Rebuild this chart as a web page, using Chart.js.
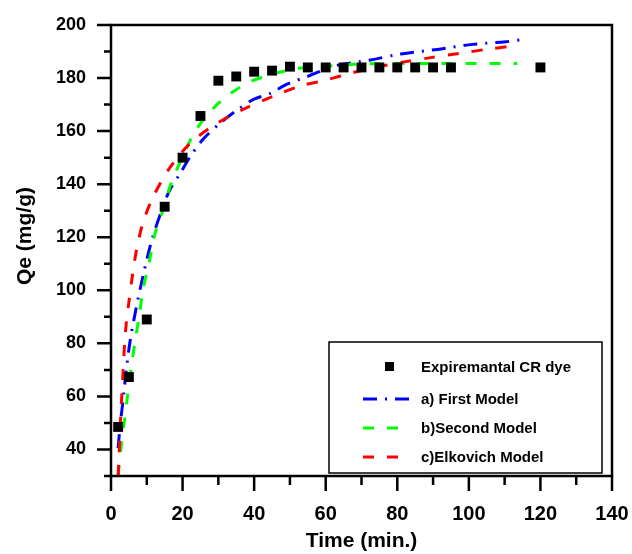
<!DOCTYPE html>
<html><head><meta charset="utf-8">
<script src="https://cdn.jsdelivr.net/npm/chart.js@4"></script>
<style>html,body{margin:0;padding:0;background:#fff}</style>
</head><body>
<canvas id="c" width="632" height="554"></canvas>
<script>
// Experimental data (Time in min, Qe in mg/g)
const expTime = [2, 5, 10, 15, 20, 25, 30, 35, 40, 45, 50, 55, 60, 65, 70, 75, 80, 85, 90, 95, 120];
const expQe   = [48.5, 67.3, 89, 131.5, 150, 165.7, 179, 180.6, 182.4, 182.8, 184.3, 184, 184, 184, 184, 184, 184, 184, 184, 184, 184];

// a) First Model (read from curve)
const firstTime = [2, 2.5, 3.6, 4.1, 5.3, 7, 9.1, 11.4, 14, 16.3, 19.3, 22.1, 25.9, 30.5, 35.2, 39.9, 44.5, 49.2, 55.3, 62.3, 72.5, 81, 91.2, 101, 110.4, 115.3];
const firstQe   = [40.5, 48.4, 61.3, 68, 80.5, 93.1, 106.3, 118.9, 129.5, 137.5, 144, 150.3, 157.2, 163, 167.9, 172, 174.2, 177.7, 180.8, 184.5, 186.8, 189.1, 190.8, 192.7, 193.7, 194.6];

// b) Second Model
const secondTime = [2, 2.8, 3.7, 4.7, 5.6, 6.7, 7.9, 9, 10.7, 12.3, 14.2, 16.8, 19.8, 24, 30.5, 38, 45, 52.7, 60, 67.9, 75, 85, 95, 105, 113.5];
const secondQe   = [30, 40.6, 50.3, 61, 70.4, 80.5, 90.6, 100.6, 110.7, 121.4, 128.9, 140.3, 149.7, 161, 171.1, 178, 181.5, 183.7, 184.5, 185.2, 185.5, 185.5, 185.5, 185.5, 185.5];

// c) Elkovich Model
const elkTime = [2, 2.2, 2.5, 2.8, 3, 3.4, 3.8, 4.3, 5, 6, 7.2, 9, 11.9, 16.3, 22.1, 29.6, 37.5, 45.5, 52.9, 59.9, 67.4, 74.9, 82.4, 89.8, 97.3, 104.8, 112.2, 113.6];
const elkQe   = [30, 36, 46, 55, 60, 70, 80, 88, 95.5, 105.7, 115.7, 125.8, 135.5, 145.9, 155.4, 162.9, 168.6, 173.2, 177, 179.2, 182, 184.3, 186.2, 187.8, 189.3, 190.8, 192.1, 192.3];

const xTickLabels = [0, 20, 40, 60, 80, 100, 120, 140];
const yTickLabels = [40, 60, 80, 100, 120, 140, 160, 180, 200];

const legendLabels = ['Expiremantal CR dye', 'a) First Model', 'b)Second Model', 'c)Elkovich Model'];

const pts = (xs, ys) => xs.map((x, i) => ({x: x, y: ys[i]}));
const FONT = 'Liberation Sans, Arial, sans-serif';

const framePlugin = {
  id: 'frame',
  afterDraw(chart) {
    const ctx = chart.ctx, a = chart.chartArea;
    const xs = chart.scales.x, ys = chart.scales.y;
    ctx.save();
    ctx.strokeStyle = '#000';
    ctx.lineWidth = 2.5;
    ctx.strokeRect(a.left, a.top, a.right - a.left, a.bottom - a.top);
    ctx.beginPath();
    for (let v = 30; v <= 200; v += 10) {
      const py = ys.getPixelForValue(v);
      const len = (v % 20 === 0) ? 14 : 7;
      ctx.moveTo(a.left, py); ctx.lineTo(a.left - len, py);
    }
    for (let v = 0; v <= 140; v += 10) {
      const px = xs.getPixelForValue(v);
      const len = (v % 20 === 0) ? 15 : 9;
      ctx.moveTo(px, a.bottom); ctx.lineTo(px, a.bottom + len);
    }
    ctx.stroke();
    // y-axis title
    ctx.fillStyle = '#000';
    ctx.font = 'bold 21px ' + FONT;
    ctx.textAlign = 'center';
    ctx.textBaseline = 'middle';
    ctx.translate(25, 236);
    ctx.rotate(-Math.PI / 2);
    ctx.fillText('Qe (mg/g)', 0, 0);
    ctx.restore();
  }
};

const legendPlugin = {
  id: 'boxLegend',
  afterDraw(chart) {
    const ctx = chart.ctx;
    ctx.save();
    const bx = 329, by = 342, bw = 273, bh = 131;
    ctx.fillStyle = '#fff';
    ctx.fillRect(bx, by, bw, bh);
    ctx.strokeStyle = '#000';
    ctx.lineWidth = 1.5;
    ctx.strokeRect(bx, by, bw, bh);
    const rows = [367, 399, 428, 457];
    const ds = chart.data.datasets;
    ctx.font = 'bold 15px ' + FONT;
    ctx.textBaseline = 'middle';
    ctx.textAlign = 'left';
    rows.forEach((ry, i) => {
      const d = ds[i];
      if (i === 0) {
        ctx.fillStyle = '#000';
        ctx.fillRect(385, ry - 5, 9, 9);
      } else {
        ctx.strokeStyle = d.borderColor;
        ctx.lineWidth = d.borderWidth;
        ctx.setLineDash(d.borderDash);
        ctx.beginPath();
        ctx.moveTo(363, ry); ctx.lineTo(411, ry);
        ctx.stroke();
        ctx.setLineDash([]);
      }
      ctx.fillStyle = '#000';
      ctx.fillText(legendLabels[i], 421, ry + 1);
    });
    ctx.restore();
  }
};

new Chart(document.getElementById('c'), {
  type: 'scatter',
  data: {
    datasets: [
      { label: legendLabels[0], data: pts(expTime, expQe), pointStyle: 'rect', pointRadius: 7, pointBackgroundColor: '#000', pointBorderWidth: 0, backgroundColor: '#000', borderColor: '#000', showLine: false, order: 0 },
      { label: legendLabels[1], data: pts(firstTime, firstQe), showLine: true, pointRadius: 0, borderColor: '#0000ff', borderWidth: 3, borderDash: [14, 8, 2, 8], tension: 0.3, order: 3 },
      { label: legendLabels[2], data: pts(secondTime, secondQe), showLine: true, pointRadius: 0, borderColor: '#00ff00', borderWidth: 3, borderDash: [11, 13], tension: 0.3, order: 2 },
      { label: legendLabels[3], data: pts(elkTime, elkQe), showLine: true, pointRadius: 0, borderColor: '#ff0000', borderWidth: 3, borderDash: [11, 13], tension: 0.3, order: 1 }
    ]
  },
  options: {
    responsive: false,
    animation: false,
    devicePixelRatio: 1,
    layout: { padding: { top: 25, right: 20, left: 0, bottom: 0 } },
    plugins: { legend: { display: false }, tooltip: { enabled: false } },
    scales: {
      x: {
        type: 'linear', min: 0, max: 140,
        grid: { display: false, drawTicks: false },
        border: { display: false },
        afterFit: s => { s.height = 78; s.paddingLeft = 0; s.paddingRight = 0; },
        ticks: { stepSize: 10, padding: 26, color: '#000', font: { family: FONT, size: 20, weight: 'bold' },
          callback: v => xTickLabels.includes(v) ? String(v) : '' , maxRotation: 0, autoSkip: false },
        title: { display: true, text: 'Time (min.)', color: '#000', padding: { top: 0, bottom: 0 }, font: { family: FONT, size: 21, weight: 'bold' } }
      },
      y: {
        type: 'linear', min: 30, max: 200,
        grid: { display: false, drawTicks: false },
        border: { display: false },
        afterFit: s => { s.width = 111; s.paddingTop = 0; s.paddingBottom = 0; },
        ticks: { stepSize: 10, padding: 25, color: '#000', font: { family: FONT, size: 18, weight: 'bold' },
          callback: v => yTickLabels.includes(v) ? String(v) : '', autoSkip: false }
      }
    }
  },
  plugins: [framePlugin, legendPlugin]
});
</script>
</body></html>
